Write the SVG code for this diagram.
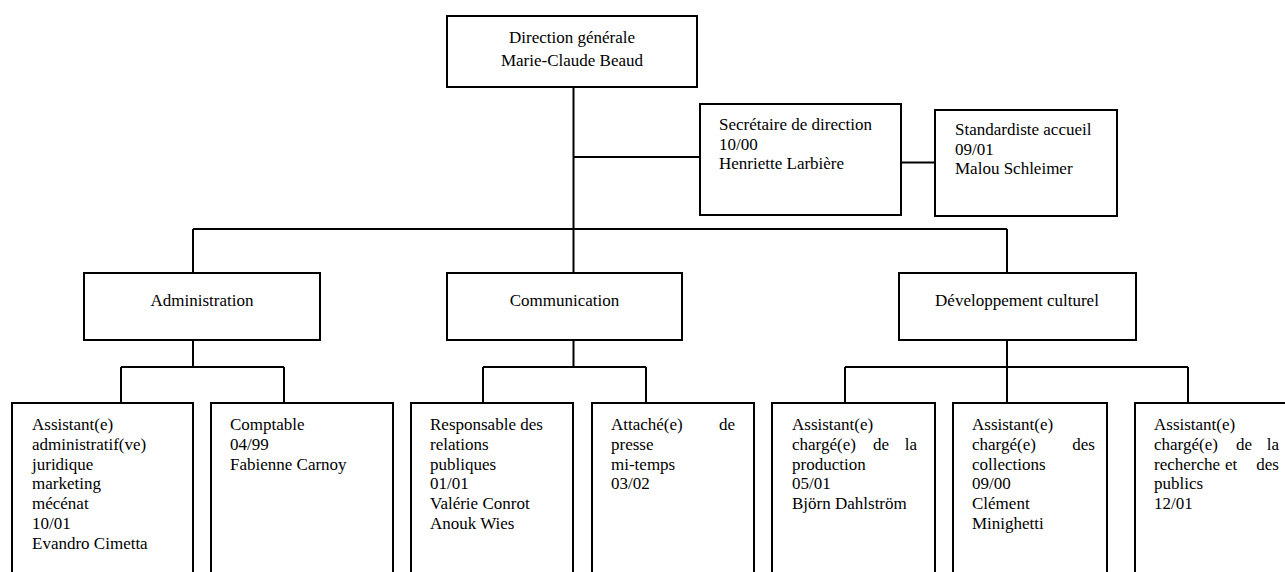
<svg xmlns="http://www.w3.org/2000/svg" width="1285" height="572" viewBox="0 0 1285 572">
<style>
.box{fill:#fff;stroke:#000;stroke-width:2}
.ln{fill:none;stroke:#000;stroke-width:2}
text{font-family:"Liberation Serif","Times New Roman",serif;font-size:17px;fill:#000}
.c{text-anchor:middle}
</style>
<rect width="1285" height="572" fill="#fff"/>
<g id="connectors">
<path class="ln" d="M573.5 87V229M573.5 157H700M901 162.5H935M193 229H1007M193 229V273M573.5 229V273M1007 229V273"/>
<path class="ln" d="M193 340V367M573.5 340V367M1007 340V367M121 367H284M483 367H646M845 367H1188"/>
<path class="ln" d="M121 367V403M284 367V403M483 367V403M646 367V403M845 367V403M1007 367V403M1188 367V403"/>
</g>
<g id="direction">
<rect class="box" x="447" y="16" width="250" height="71"/>
<text class="c" x="572" y="43">Direction générale</text>
<text class="c" x="572" y="66">Marie-Claude Beaud</text>
</g>
<g id="secretaire">
<rect class="box" x="700" y="104" width="201" height="111"/>
<text x="719" y="130">Secrétaire de direction</text>
<text x="719" y="149.5">10/00</text>
<text x="719" y="169">Henriette Larbière</text>
</g>
<g id="standardiste">
<rect class="box" x="935" y="110" width="182" height="106"/>
<text x="955" y="135">Standardiste accueil</text>
<text x="955" y="154.5">09/01</text>
<text x="955" y="174">Malou Schleimer</text>
</g>
<g id="administration">
<rect class="box" x="84" y="273" width="236" height="67"/>
<text class="c" x="202" y="306">Administration</text>
</g>
<g id="communication">
<rect class="box" x="447" y="273" width="235" height="67"/>
<text class="c" x="564.5" y="306">Communication</text>
</g>
<g id="developpement">
<rect class="box" x="899" y="273" width="237" height="67"/>
<text class="c" x="1017" y="306">Développement culturel</text>
</g>
<g id="assistant-admin">
<rect class="box" x="12" y="403" width="181" height="190"/>
<text x="32" y="430">Assistant(e)</text>
<text x="32" y="449.8">administratif(ve)</text>
<text x="32" y="469.6">juridique</text>
<text x="32" y="489.4">marketing</text>
<text x="32" y="509.2">mécénat</text>
<text x="32" y="529">10/01</text>
<text x="32" y="548.8">Evandro Cimetta</text>
</g>
<g id="comptable">
<rect class="box" x="211" y="403" width="182" height="190"/>
<text x="230" y="430">Comptable</text>
<text x="230" y="449.8">04/99</text>
<text x="230" y="469.6">Fabienne Carnoy</text>
</g>
<g id="relations-publiques">
<rect class="box" x="411" y="403" width="162" height="190"/>
<text x="430" y="430">Responsable des</text>
<text x="430" y="449.8">relations</text>
<text x="430" y="469.6">publiques</text>
<text x="430" y="489.4">01/01</text>
<text x="430" y="509.2">Valérie Conrot</text>
<text x="430" y="529">Anouk Wies</text>
</g>
<g id="attache-presse">
<rect class="box" x="592" y="403" width="162" height="190"/>
<text x="611" y="430">Attaché(e)</text>
<text x="735" y="430" text-anchor="end">de</text>
<text x="611" y="449.8">presse</text>
<text x="611" y="469.6">mi-temps</text>
<text x="611" y="489.4">03/02</text>
</g>
<g id="assistant-production">
<rect class="box" x="772" y="403" width="163" height="190"/>
<text x="792" y="430">Assistant(e)</text>
<text x="792" y="449.8">chargé(e)</text>
<text x="873" y="449.8">de</text>
<text x="917" y="449.8" text-anchor="end">la</text>
<text x="792" y="469.6">production</text>
<text x="792" y="489.4">05/01</text>
<text x="792" y="509.2">Björn Dahlström</text>
</g>
<g id="assistant-collections">
<rect class="box" x="953" y="403" width="154" height="190"/>
<text x="972" y="430">Assistant(e)</text>
<text x="972" y="449.8">chargé(e)</text>
<text x="1095" y="449.8" text-anchor="end">des</text>
<text x="972" y="469.6">collections</text>
<text x="972" y="489.4">09/00</text>
<text x="972" y="509.2">Clément</text>
<text x="972" y="529">Minighetti</text>
</g>
<g id="assistant-recherche">
<rect class="box" x="1135" y="403" width="170" height="190"/>
<text x="1154" y="430">Assistant(e)</text>
<text x="1154" y="449.8">chargé(e)</text>
<text x="1236" y="449.8">de</text>
<text x="1279" y="449.8" text-anchor="end">la</text>
<text x="1154" y="469.6">recherche</text>
<text x="1225" y="469.6">et</text>
<text x="1279" y="469.6" text-anchor="end">des</text>
<text x="1154" y="489.4">publics</text>
<text x="1154" y="509.2">12/01</text>
</g>
</svg>
